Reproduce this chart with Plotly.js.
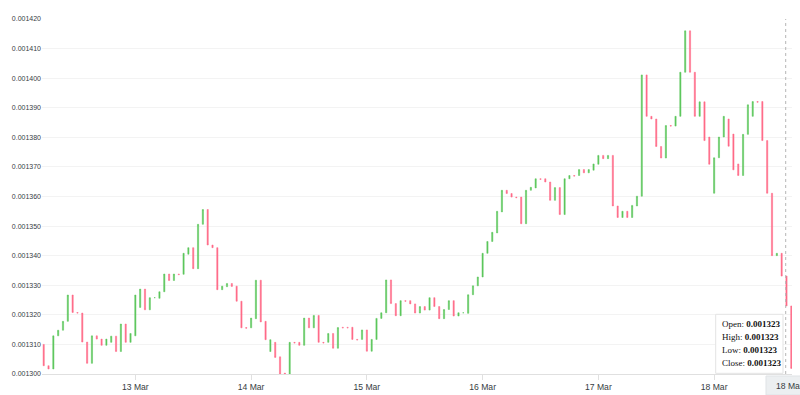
<!DOCTYPE html>
<html>
<head>
<meta charset="utf-8">
<script src="https://cdn.plot.ly/plotly-3.0.1.min.js"></script>
<style>html,body{margin:0;padding:0;background:#fff;}#chart{width:800px;height:395px;}</style>
</head>
<body>
<div id="chart"></div>
<script>
// Hourly candles starting 12 Mar 05:00
const startTime = Date.UTC(2024, 2, 12, 5, 0, 0);
const openPrices = [
0.0013100,0.0013028,0.0013017,0.0013129,0.0013148,0.0013178,0.0013267,0.0013208,0.0013206,0.0013108,
0.0013036,0.0013129,0.0013118,0.0013097,0.0013107,0.0013128,0.0013076,0.0013169,0.0013107,0.0013129,
0.0013225,0.0013287,0.0013217,0.0013258,0.0013256,0.0013278,0.0013338,0.0013316,0.0013338,0.0013337,
0.0013405,0.0013427,0.0013356,0.0013506,0.0013556,0.0013436,0.0013427,0.0013285,0.0013295,0.0013306,
0.0013297,0.0013246,0.0013157,0.0013156,0.0013187,0.0013317,0.0013178,0.0013076,0.0013107,0.0013058,
0.0013003,0.0013000,0.0013107,0.0013107,0.0013097,0.0013189,0.0013156,0.0013198,0.0013107,0.0013107,
0.0013137,0.0013087,0.0013158,0.0013158,0.0013158,0.0013117,0.0013117,0.0013149,0.0013077,0.0013117,
0.0013188,0.0013207,0.0013318,0.0013238,0.0013197,0.0013248,0.0013248,0.0013237,0.0013206,0.0013228,
0.0013216,0.0013258,0.0013228,0.0013187,0.0013218,0.0013248,0.0013196,0.0013207,0.0013205,0.0013268,
0.0013298,0.0013328,0.0013408,0.0013448,0.0013477,0.0013548,0.0013621,0.0013610,0.0013598,0.0013598,
0.0013508,0.0013621,0.0013629,0.0013660,0.0013660,0.0013649,0.0013587,0.0013630,0.0013539,0.0013660,
0.0013671,0.0013671,0.0013691,0.0013680,0.0013689,0.0013709,0.0013739,0.0013728,0.0013739,0.0013568,
0.0013529,0.0013550,0.0013529,0.0013568,0.0013601,0.0014011,0.0013871,0.0013862,0.0013769,0.0013730,
0.0013840,0.0013838,0.0013871,0.0014020,0.0014160,0.0014020,0.0013871,0.0013920,0.0013801,0.0013611,
0.0013731,0.0013801,0.0013862,0.0013811,0.0013710,0.0013671,0.0013810,0.0013871,0.0013921,0.0013921,
0.0013789,0.0013611,0.0013400,0.0013408,0.0013331,0.0013230
];
const closePrices = [
0.0013028,0.0013017,0.0013129,0.0013148,0.0013178,0.0013267,0.0013208,0.0013206,0.0013108,0.0013036,
0.0013129,0.0013118,0.0013097,0.0013118,0.0013128,0.0013076,0.0013169,0.0013107,0.0013137,0.0013267,
0.0013287,0.0013217,0.0013258,0.0013258,0.0013278,0.0013338,0.0013316,0.0013338,0.0013336,0.0013408,
0.0013427,0.0013356,0.0013506,0.0013556,0.0013436,0.0013427,0.0013285,0.0013297,0.0013306,0.0013296,
0.0013246,0.0013156,0.0013155,0.0013189,0.0013317,0.0013176,0.0013116,0.0013116,0.0013056,0.0012998,
0.0013000,0.0013107,0.0013105,0.0013097,0.0013189,0.0013156,0.0013198,0.0013107,0.0013105,0.0013137,
0.0013087,0.0013157,0.0013156,0.0013156,0.0013117,0.0013115,0.0013149,0.0013077,0.0013117,0.0013188,
0.0013207,0.0013318,0.0013238,0.0013197,0.0013248,0.0013246,0.0013237,0.0013206,0.0013228,0.0013216,
0.0013258,0.0013228,0.0013187,0.0013218,0.0013248,0.0013196,0.0013207,0.0013207,0.0013268,0.0013298,
0.0013328,0.0013408,0.0013448,0.0013479,0.0013550,0.0013621,0.0013610,0.0013598,0.0013596,0.0013508,
0.0013621,0.0013631,0.0013660,0.0013658,0.0013649,0.0013587,0.0013630,0.0013539,0.0013660,0.0013671,
0.0013669,0.0013691,0.0013680,0.0013691,0.0013710,0.0013739,0.0013728,0.0013739,0.0013568,0.0013529,
0.0013550,0.0013529,0.0013570,0.0013601,0.0014011,0.0013871,0.0013862,0.0013769,0.0013730,0.0013840,
0.0013838,0.0013871,0.0014020,0.0014160,0.0014020,0.0013871,0.0013920,0.0013789,0.0013709,0.0013731,
0.0013801,0.0013871,0.0013770,0.0013690,0.0013671,0.0013810,0.0013910,0.0013921,0.0013919,0.0013789,
0.0013611,0.0013400,0.0013408,0.0013331,0.0013230,0.0013019
];
const yTickFormat = '.6f';
const tooltipLabels = ['Open', 'High', 'Low', 'Close'];
const tooltipValue = '0.001323';
const hoverLabel = '18 Mar';

const pad = n => String(n).padStart(2, '0');
const times = openPrices.map((_, i) => {
  const d = new Date(startTime + i * 3600000);
  return d.getUTCFullYear() + '-' + pad(d.getUTCMonth() + 1) + '-' + pad(d.getUTCDate()) + ' ' +
    pad(d.getUTCHours()) + ':00:00';
});
const highPrices = openPrices.map((o, i) => Math.max(o, closePrices[i]));
const lowPrices = openPrices.map((o, i) => Math.min(o, closePrices[i]));

const GREEN = '#5cc75c', RED = '#ff6b88';
const trace = {
  type: 'candlestick', x: times, open: openPrices, high: highPrices, low: lowPrices, close: closePrices,
  increasing: {line: {color: GREEN, width: 0.5}, fillcolor: GREEN},
  decreasing: {line: {color: RED, width: 0.5}, fillcolor: RED},
  whiskerwidth: 0, hoverinfo: 'skip'
};

// plot box in pixels: left 42, right 792, top 19, bottom 374
const PL = 42, PW = 750, PT = 19, PH = 355;
const px = x => (x - PL) / PW, py = y => (PT + PH - y) / PH;

const annotations = tooltipLabels.map((lab, i) => ({
  xref: 'paper', yref: 'paper', x: px(720), y: py(324.3 + i * 12.9), xanchor: 'left', yanchor: 'middle',
  text: lab + ': <b>' + tooltipValue + '</b>', showarrow: false,
  font: {family: 'Liberation Serif, Times New Roman, serif', size: 9, color: '#111'}
}));
annotations.push({
  xref: 'paper', yref: 'paper', x: px(774), y: py(385.5), xanchor: 'left', yanchor: 'middle',
  text: hoverLabel, showarrow: false,
  font: {family: 'Liberation Sans, Arial, sans-serif', size: 8.6, color: '#373d3f'}
});

const layout = {
  width: 800, height: 395,
  margin: {l: PL, r: 800 - PL - PW, t: PT, b: 395 - PT - PH, pad: 0},
  paper_bgcolor: '#fff', plot_bgcolor: '#fff', showlegend: false,
  boxgap: 0.64,
  font: {family: 'Liberation Sans, Arial, sans-serif', color: '#373d3f'},
  xaxis: {
    type: 'date', range: ['2024-03-12 04:38:50', '2024-03-18 16:08:40'],
    tick0: '2024-03-12', dtick: 86400000, tickformat: '%d %b',
    ticks: 'outside', ticklen: 5, tickcolor: '#e0e0e0', showgrid: false,
    showline: true, linecolor: '#e0e0e0', linewidth: 1, zeroline: false,
    tickfont: {size: 8.6, color: '#373d3f'}, rangeslider: {visible: false}, fixedrange: true
  },
  yaxis: {
    range: [0.0013, 0.00142], tick0: 0.0013, dtick: 0.00001, tickformat: yTickFormat,
    showgrid: true, gridcolor: '#f3f3f3', gridwidth: 1, zeroline: false, showline: false,
    ticks: '', tickfont: {size: 7, color: '#373d3f'}, fixedrange: true
  },
  shapes: [
    {type: 'line', xref: 'paper', yref: 'paper', x0: px(785.7), x1: px(785.7), y0: 0, y1: 1,
     line: {color: '#b6b6b6', width: 1, dash: 'dot'}},
    {type: 'rect', xref: 'paper', yref: 'paper', x0: px(715.7), x1: px(783), y0: py(373.3), y1: py(314.3),
     fillcolor: '#fff', line: {color: '#e3e3e3', width: 1}},
    {type: 'rect', xref: 'paper', yref: 'paper', x0: px(766), x1: px(806), y0: py(395), y1: py(376),
     fillcolor: '#eceff1', line: {color: '#dfe3e6', width: 1}}
  ],
  annotations: annotations
};

Plotly.newPlot('chart', [trace], layout, {displayModeBar: false, staticPlot: true});
</script>
</body>
</html>
